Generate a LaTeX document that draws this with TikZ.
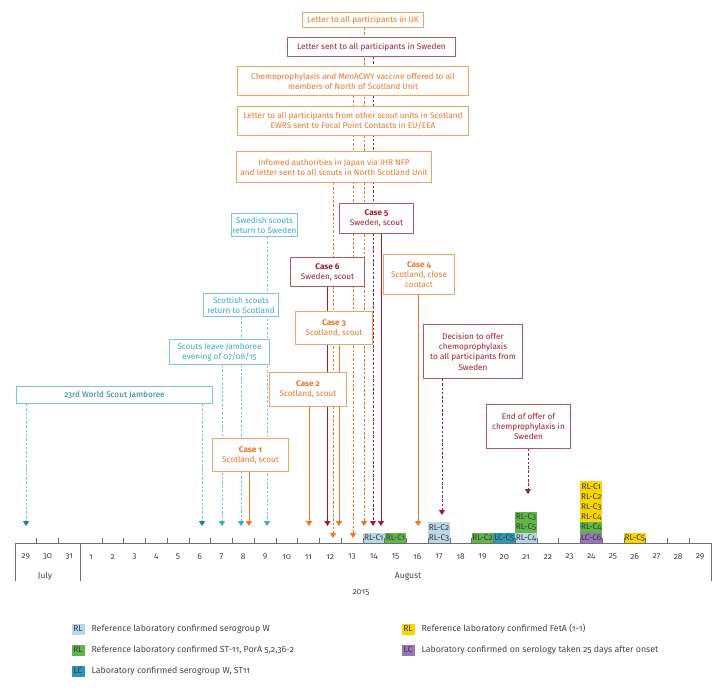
\documentclass[tikz,border=0pt]{standalone}
\usepackage{fontspec}
\setmainfont{Fira Sans}[Numbers=OldStyle]
\usetikzlibrary{arrows.meta,backgrounds}

\definecolor{orng}{RGB}{236,118,44}
\definecolor{orngl}{RGB}{244,162,108}
\definecolor{dred}{RGB}{158,30,54}
\definecolor{dredl}{RGB}{184,86,106}
\definecolor{sky}{RGB}{62,168,200}
\definecolor{skyl}{RGB}{122,198,222}
\definecolor{tealdk}{RGB}{24,128,160}
\definecolor{axisgray}{RGB}{110,110,110}
\definecolor{txtgray}{RGB}{70,70,70}
\definecolor{rlblue}{RGB}{184,216,232}
\definecolor{rlgreen}{RGB}{96,182,72}
\definecolor{lcteal}{RGB}{44,152,184}
\definecolor{rlyellow}{RGB}{250,214,0}
\definecolor{lcpurple}{RGB}{154,116,184}

\tikzset{
  evt/.style={draw, fill=white, align=center, inner sep=1pt, line width=0.9pt,
    font=\fontsize{8.2}{10.3}\selectfont},
  orbox/.style={evt, draw=orngl, text=orng},
  rdbox/.style={evt, draw=dredl, text=dred},
  blbox/.style={evt, draw=skyl, text=sky},
  solidarr/.style={line width=1pt, -{Triangle[width=6pt,length=5pt]}},
  dasharr/.style={line width=0.8pt, dash pattern=on 2.5pt off 1.8pt, -{Triangle[width=6pt,length=5pt]}},
  lab/.style={minimum width=21.75, minimum height=10.3, inner sep=0pt, anchor=south,
    text=txtgray!80!black, font=\fontsize{8.3}{9}\selectfont},
  day/.style={text=txtgray, font=\fontsize{8.5}{9}\selectfont},
  keybox/.style={minimum width=13, minimum height=11, inner sep=0pt, text=txtgray!80!black,
    font=\fontsize{8.5}{9}\selectfont},
  keytext/.style={anchor=west, text=txtgray, font=\fontsize{8.8}{10}\selectfont}
}

\begin{document}
\begin{tikzpicture}[x=1pt, y=-1pt]
  \useasboundingbox (0,0) rectangle (725,689);

  % event boxes
  \node[orbox, minimum width=121, minimum height=15] (uk) at (363,20) {Letter to all participants in UK};
  \node[rdbox, minimum width=168, minimum height=19] (swe) at (371.5,47) {Letter sent to all participants in Sweden};
  \node[orbox, minimum width=231, minimum height=29] (chemo) at (353,81) {Chemoprophylaxis and MenACWY vaccine offered to all\\members of North of Scotland Unit};
  \node[orbox, minimum width=231, minimum height=29] (other) at (353,121) {Letter to all participants from other scout units in Scotland\\EWRS sent to Focal Point Contacts in EU/EEA};
  \node[orbox, minimum width=195, minimum height=31] (japan) at (334,167) {Infomed authorities in Japan via IHR NFP\\and letter sent to all scouts in North Scotland Unit};
  \node[rdbox, minimum width=74, minimum height=30] (case5) at (376.5,218.5) {\textbf{Case 5}\\Sweden, scout};
  \node[blbox, minimum width=64, minimum height=23] (swsc) at (264.5,225) {Swedish scouts\\return to Sweden};
  \node[rdbox, minimum width=74, minimum height=29] (case6) at (327.5,272) {\textbf{Case 6}\\Sweden, scout};
  \node[orbox, minimum width=71, minimum height=40] (case4) at (419,274.5) {\textbf{Case 4}\\Scotland, close\\contact};
  \node[blbox, minimum width=75, minimum height=23] (scsc) at (241,305) {Scottish scouts\\return to Scotland};
  \node[orbox, minimum width=77, minimum height=33] (case3) at (334,328) {\textbf{Case 3}\\Scotland, scout};
  \node[rdbox, minimum width=99, minimum height=54] (decis) at (473,351.5) {Decision to offer\\chemoprophylaxis\\to all participants from\\Sweden};
  \node[blbox, minimum width=100, minimum height=25] (leave) at (219.5,352) {Scouts leave Jamboree\\evening of 07/08/15};
  \node[orbox, minimum width=77, minimum height=34] (case2) at (308,389.5) {\textbf{Case 2}\\Scotland, scout};
  \node[blbox, text=tealdk, minimum width=196, minimum height=17] (jamb) at (114.5,395) {23rd World Scout Jamboree};
  \node[rdbox, minimum width=84, minimum height=44] (endoff) at (528.5,426.5) {End of offer of\\chemprophylaxis in\\Sweden};
  \node[orbox, minimum width=76, minimum height=33] (case1) at (250.5,455) {\textbf{Case 1}\\Scotland, scout};

  % arrow ends above the axis
  \coordinate (tJs) at (26,526);
  \coordinate (tJe) at (202,526);
  \coordinate (tLv) at (222,526);
  \coordinate (tSc) at (241,526);
  \coordinate (tC1) at (249,526);
  \coordinate (tSw) at (267,526);
  \coordinate (tC2) at (309,526);
  \coordinate (tC6) at (327.5,526);
  \coordinate (tJp) at (333,538);
  \coordinate (tC3) at (339,526);
  \coordinate (tCh) at (353,538);
  \coordinate (tUK) at (364,526);
  \coordinate (tSe) at (373,526);
  \coordinate (tC5) at (381,526);
  \coordinate (tC4) at (418,526);
  \coordinate (tDe) at (442,515);
  \coordinate (tEn) at (528,494);

  \begin{scope}[on background layer]
    \draw[dasharr, skyl, arrows={-{Triangle[width=6pt,length=5pt,color=tealdk]}}] (jamb.south -| tJs) -- (tJs);
    \draw[dasharr, skyl, arrows={-{Triangle[width=6pt,length=5pt,color=tealdk]}}] (jamb.south -| tJe) -- (tJe);
    \draw[dasharr, skyl, arrows={-{Triangle[width=6pt,length=5pt,color=sky]}}] (leave.south -| tLv) -- (tLv);
    \draw[dasharr, skyl, arrows={-{Triangle[width=6pt,length=5pt,color=sky]}}] (scsc.south -| tSc) -- (tSc);
    \draw[dasharr, skyl, arrows={-{Triangle[width=6pt,length=5pt,color=sky]}}] (swsc.south -| tSw) -- (tSw);
    \draw[solidarr, orng] (case1.south -| tC1) -- (tC1);
    \draw[solidarr, orng] (case2.south -| tC2) -- (tC2);
    \draw[solidarr, dred] (case6.south -| tC6) -- (tC6);
    \draw[dasharr, orng] (japan.south -| tJp) -- (tJp);
    \draw[solidarr, orng] (case3.south -| tC3) -- (tC3);
    \draw[dasharr, orng] (chemo.south -| tCh) -- (tCh);
    \draw[dasharr, orng] (uk.south -| tUK) -- (tUK);
    \draw[dasharr, dred] (swe.south -| tSe) -- (tSe);
    \draw[solidarr, dred] (case5.south -| tC5) -- (tC5);
    \draw[solidarr, orng] (case4.south -| tC4) -- (tC4);
    \draw[dasharr, dred] (decis.south -| tDe) -- (tDe);
    \draw[dasharr, dred] (endoff.south -| tEn) -- (tEn);
  \end{scope}

  % laboratory results
  \foreach \x/\r/\c/\t [count=\n] in {
      373.75/0/rlblue/RL-C1, 395.5/0/rlgreen/RL-C1,
      439/0/rlblue/RL-C3, 439/1/rlblue/RL-C2,
      482.5/0/rlgreen/RL-C2, 504.25/0/lcteal/LC-C5,
      526/0/rlblue/RL-C4, 526/1/rlgreen/RL-C5, 526/2/rlgreen/RL-C3,
      591.25/0/lcpurple/LC-C6, 591.25/1/rlgreen/RL-C4, 591.25/2/rlyellow/RL-C4,
      591.25/3/rlyellow/RL-C3, 591.25/4/rlyellow/RL-C2, 591.25/5/rlyellow/RL-C1,
      634.75/0/rlyellow/RL-C5}
    \node[lab, fill=\c] (lab\n) at (\x,543-10.3*\r) {\t};

  % time axis
  \draw[axisgray, line width=0.8pt] (15,543) -- (711,543);
  \draw[axisgray, line width=0.8pt] (15,543) -- (15,581);
  \draw[axisgray, line width=0.8pt] (80.25,543) -- (80.25,581);
  \draw[axisgray, line width=0.8pt] (711,543) -- (711,581);
  \foreach \k in {1,2,4,5,...,31}
    \draw[axisgray, line width=0.8pt] (15+21.75*\k,543) -- (15+21.75*\k,538);
  \foreach \t [count=\i from 0] in {29,30,31,1,2,3,4,5,6,7,8,9,10,11,12,13,14,15,16,17,18,19,20,21,22,23,24,25,26,27,28,29}
    \node[day] (day\i) at (25.75+21.75*\i,557) {\t};
  \node[day] (jul) at (45,576) {July};
  \node[day] (aug) at (408,576) {August};
  \node[day] (yr) at (361,593) {2015};

  % key
  \node[keybox, fill=rlblue] (k1) at (78,629) {RL};
  \node[keytext] (k1t) at (88,629) {Reference laboratory confirmed serogroup W};
  \node[keybox, fill=rlgreen] (k2) at (78,650) {RL};
  \node[keytext] (k2t) at (88,650) {Reference laboratory confirmed ST-11, PorA 5,2,36-2};
  \node[keybox, fill=lcteal] (k3) at (78,671) {LC};
  \node[keytext] (k3t) at (88,671) {Laboratory confirmed serogroup W, ST11};
  \node[keybox, fill=rlyellow] (k4) at (408,629) {RL};
  \node[keytext] (k4t) at (418,629) {Reference laboratory confirmed FetA (1-1)};
  \node[keybox, fill=lcpurple] (k5) at (408,650) {LC};
  \node[keytext] (k5t) at (418,650) {Laboratory confirmed on serology taken 25 days after onset};
\end{tikzpicture}
\end{document}
